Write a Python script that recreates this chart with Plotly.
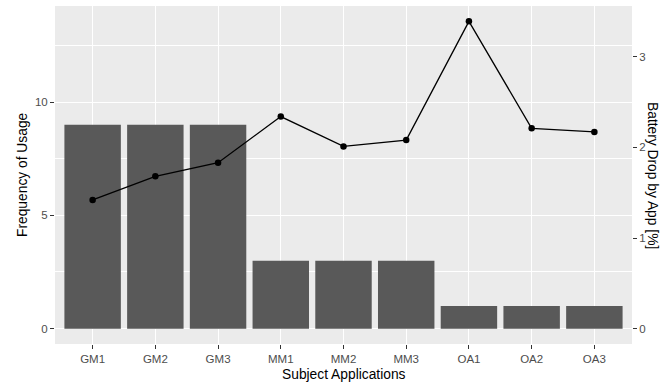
import plotly.graph_objects as go

apps = ["GM1", "GM2", "GM3", "MM1", "MM2", "MM3", "OA1", "OA2", "OA3"]
frequency = [9, 9, 9, 3, 3, 3, 1, 1, 1]
battery_drop = [1.42, 1.68, 1.83, 2.34, 2.01, 2.08, 3.39, 2.21, 2.17]
scale = 4  # secondary axis = primary / 4
left_ticks = [0, 5, 10]
right_ticks = [0, 1, 2, 3]

top = max(max(frequency), max(battery_drop) * scale)
lo, hi = -0.05 * top, 1.05 * top

font_fam = "Liberation Sans, Arial, sans-serif"
tick_font = dict(family=font_fam, size=11.5, color="#4D4D4D")

W, H = 661, 385
ML, MR, MT, MB = 55, 29, 6, 41
pw, ph = W - ML - MR, H - MT - MB

fig = go.Figure()
fig.add_trace(go.Bar(x=apps, y=frequency, width=0.9, marker=dict(color="#595959", line=dict(width=0)),
                     showlegend=False, yaxis="y"))
fig.add_trace(go.Scatter(x=apps, y=battery_drop, mode="lines+markers", yaxis="y2",
                         line=dict(color="black", width=1.3),
                         marker=dict(color="black", size=6.5), showlegend=False))

title_font = dict(family=font_fam, size=13.8, color="black")
fig.update_layout(
    width=W, height=H,
    margin=dict(l=ML, r=MR, t=MT, b=MB, autoexpand=False),
    paper_bgcolor="white", plot_bgcolor="#EBEBEB",
    xaxis=dict(range=[-0.6, 8.6], showgrid=True, gridcolor="white", gridwidth=1.3,
               ticks="outside", ticklen=4, tickcolor="#333333", tickwidth=1,
               tickfont=tick_font, zeroline=False, showline=False, automargin=False),
    yaxis=dict(range=[lo, hi], tickvals=left_ticks, showgrid=True, gridcolor="white", gridwidth=1.3,
               minor=dict(tick0=2.5, dtick=5, showgrid=True, gridcolor="white", gridwidth=0.6, ticks=""),
               ticks="outside", ticklen=4, tickcolor="#333333", tickwidth=1,
               tickfont=tick_font, zeroline=False, showline=False, automargin=False),
    yaxis2=dict(range=[lo / scale, hi / scale], tickvals=right_ticks, overlaying="y", side="right",
                showgrid=False, zeroline=False, showline=False, automargin=False,
                ticks="outside", ticklen=4, tickcolor="#333333", tickwidth=1, tickfont=tick_font),
    annotations=[
        dict(text="Subject Applications", x=0.5, xref="paper", y=(H - MB - 375) / ph, yref="paper",
             yanchor="middle", showarrow=False, font=title_font),
        dict(text="Frequency of Usage", x=(22 - ML) / pw, xanchor="center", y=0.5, xref="paper",
             yref="paper", showarrow=False, textangle=-90, font=title_font),
        dict(text="Battery Drop by App [%]", x=(653 - ML) / pw, xanchor="center", y=0.5, xref="paper",
             yref="paper", showarrow=False, textangle=90, font=title_font),
    ],
)

fig.write_html("out.html", config={"displayModeBar": False},
               post_script="document.body.style.margin='0';document.body.style.padding='0';")
